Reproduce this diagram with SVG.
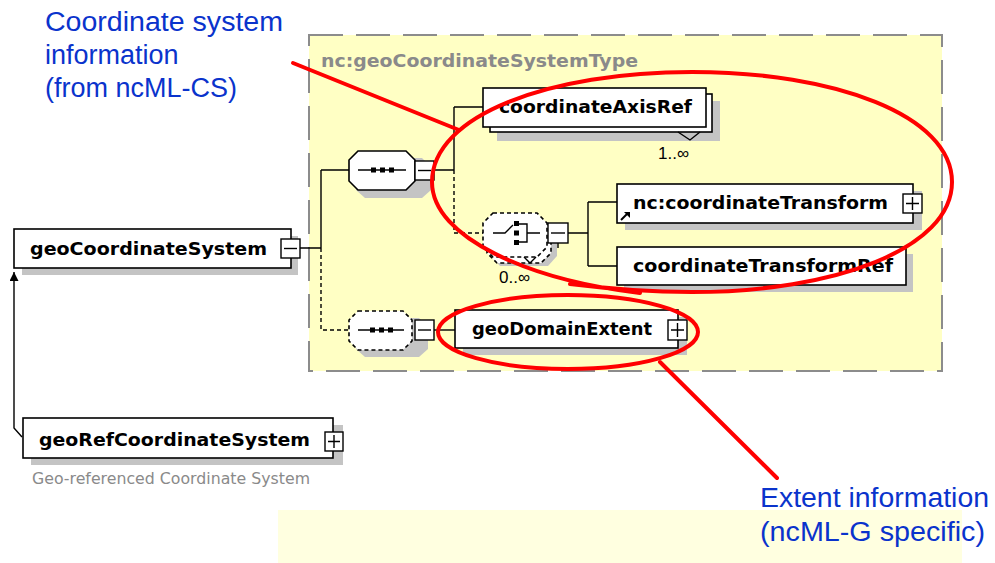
<svg xmlns="http://www.w3.org/2000/svg" width="995" height="563" viewBox="0 0 995 563">
  <style>
    .lbl { font-family: "DejaVu Sans", "Liberation Sans", sans-serif; font-weight: bold; font-size: 17px; fill: #000; }
    .box { fill: #fff; stroke: #000; stroke-width: 1.6; }
    .shadow { fill: #c4c4c4; }
    .btn { fill: #fff; stroke: #000; stroke-width: 1.4; }
    .sym { stroke: #000; stroke-width: 1.4; fill: none; }
    .wire { stroke: #000; stroke-width: 1.4; fill: none; }
    .opt { stroke: #000; stroke-width: 1.4; fill: none; stroke-dasharray: 4 3; }
    .comp { fill: #fff; stroke: #000; stroke-width: 1.6; }
    .compopt { fill: #fff; stroke: #000; stroke-width: 1.6; stroke-dasharray: 4 3; }
    .card { font-family: "Liberation Sans", Arial, sans-serif; font-size: 17px; fill: #000; }
    .note { font-family: "Liberation Sans", Arial, sans-serif; font-size: 27px; fill: #0a33cc; }
    .red { stroke: #ff0000; stroke-width: 4; fill: none; stroke-linecap: round; }
  </style>
  <defs>
    <marker id="arrowHead" viewBox="0 0 10 10" refX="10" refY="5" markerWidth="10" markerHeight="9" markerUnits="userSpaceOnUse" orient="auto">
      <path d="M0,0 L10,5 L0,10 Z" fill="#000"/>
    </marker>
  </defs>

  <!-- pale panel at the bottom -->
  <rect x="278" y="510" width="684" height="53" fill="#ffffe0"/>

  <!-- complex type frame -->
  <g id="typeFrame">
    <rect x="309" y="35" width="633" height="336" fill="#ffffc4" stroke="#8c8c8c" stroke-width="2" stroke-dasharray="34 13"/>
    <text x="321" y="67" font-family="'DejaVu Sans', 'Liberation Sans', sans-serif" font-weight="bold" font-size="17" fill="#8a8a8a" textLength="317" lengthAdjust="spacingAndGlyphs">nc:geoCoordinateSystemType</text>
  </g>

  <!-- connectors -->
  <g id="connectors">
    <path class="wire" d="M300,248 H321 M321,170 V248 M321,170 H349"/>
    <path class="opt" d="M321,248 V330 H349"/>
    <path class="wire" d="M434,170 H454 M454,107 V170 M454,107 H483"/>
    <path class="opt" d="M454,170 V233 H483"/>
    <path class="wire" d="M568,233 H588 M588,202 V266 M588,202 H617 M588,266 H617 M558,243 V248"/>
    <path class="wire" d="M434,330 H455"/>
    <path class="wire" d="M22,437 L14,428 V272" marker-end="url(#arrowHead)"/>
  </g>

  <!-- root element -->
  <g id="geoCoordinateSystem">
    <rect class="shadow" x="22" y="236" width="276" height="39"/>
    <rect class="box" x="14" y="229" width="277" height="39"/>
    <text class="lbl" x="30" y="255" textLength="237" lengthAdjust="spacingAndGlyphs">geoCoordinateSystem</text>
    <rect class="btn" x="281" y="239" width="19" height="19"/>
    <path class="sym" d="M284,248.5 H297"/>
  </g>

  <!-- sequence compositor -->
  <g id="sequenceMain">
    <path class="shadow" d="M365,158 H422 L431,167 V190 L422,198 H365 L356,190 V167 Z"/>
    <path class="comp" d="M358,151 H406 L415,160 V181 L406,190 H358 L349,181 V160 Z"/>
    <path class="sym" d="M358,170 H406"/>
    <rect x="371" y="167.5" width="5" height="5" fill="#000"/>
    <rect x="380" y="167.5" width="5" height="5" fill="#000"/>
    <rect x="389" y="167.5" width="5" height="5" fill="#000"/>
    <rect class="btn" x="415" y="161" width="19" height="19"/>
    <path class="sym" d="M418,170.5 H431"/>
  </g>

  <!-- coordinateAxisRef (repeating) -->
  <g id="coordinateAxisRef">
    <rect class="shadow" x="497" y="101" width="223" height="40"/>
    <rect class="box" x="490" y="94" width="222" height="38"/>
    <rect class="box" x="483" y="88" width="223" height="39"/>
    <path class="sym" d="M678,132 L690,140 L700,132"/>
    <text class="lbl" x="499" y="113" textLength="193" lengthAdjust="spacingAndGlyphs">coordinateAxisRef</text>
    <text class="card" x="658" y="159">1..∞</text>
  </g>

  <!-- choice compositor (optional, repeating) -->
  <g id="choiceTransform">
    <path class="shadow" d="M500,222 H548 L557,231 V256 L548,266 H500 L491,256 V231 Z"/>
    <path class="compopt" d="M497,219 H541 L551,229 V253 L541,263 H497 L487,253 V229 Z"/>
    <path class="compopt" d="M493,213 H537 L547,223 V247 L537,257 H493 L483,247 V223 Z"/>
    <path class="sym" d="M524,257 L530,263 L536,257"/>
    <path class="sym" d="M493,233 H505 L513,225 M519,224 H527 V242 H519 M527,233 H540"/>
    <rect x="514" y="221" width="5" height="5" fill="#000"/>
    <rect x="514" y="230.5" width="5" height="5" fill="#000"/>
    <rect x="514" y="240" width="5" height="5" fill="#000"/>
    <rect class="btn" x="548" y="223" width="20" height="20"/>
    <path class="sym" d="M551,233 H565"/>
    <text class="card" x="499" y="283">0..∞</text>
  </g>

  <!-- nc:coordinateTransform (reference) -->
  <g id="coordinateTransform">
    <rect class="shadow" x="625" y="191" width="297" height="39"/>
    <rect class="box" x="617" y="184" width="296" height="39"/>
    <text class="lbl" x="633" y="209" textLength="255" lengthAdjust="spacingAndGlyphs">nc:coordinateTransform</text>
    <path d="M621,220 L628,213" stroke="#000" stroke-width="2"/>
    <path d="M624,212 H630 V218 Z" fill="#000"/>
    <rect class="btn" x="903" y="194" width="19" height="19"/>
    <path class="sym" d="M906,203.5 H919 M912.5,197 V210"/>
  </g>

  <!-- coordinateTransformRef -->
  <g id="coordinateTransformRef">
    <rect class="shadow" x="624" y="254" width="289" height="38"/>
    <rect class="box" x="617" y="247" width="289" height="38"/>
    <text class="lbl" x="633" y="272" textLength="260" lengthAdjust="spacingAndGlyphs">coordinateTransformRef</text>
  </g>

  <!-- optional sequence compositor -->
  <g id="sequenceExtent">
    <path class="shadow" d="M365,318 H419 L428,327 V349 L419,357 H365 L356,349 V327 Z"/>
    <path class="compopt" d="M358,311 H403 L412,320 V341 L403,350 H358 L349,341 V320 Z"/>
    <path class="sym" d="M358,330 H404"/>
    <rect x="370" y="327.5" width="5" height="5" fill="#000"/>
    <rect x="379" y="327.5" width="5" height="5" fill="#000"/>
    <rect x="388" y="327.5" width="5" height="5" fill="#000"/>
    <rect class="btn" x="415" y="320" width="19" height="20"/>
    <path class="sym" d="M418,330 H431"/>
  </g>

  <!-- geoDomainExtent -->
  <g id="geoDomainExtent">
    <rect class="shadow" x="463" y="317" width="224" height="38"/>
    <rect class="box" x="455" y="310" width="223" height="38"/>
    <text class="lbl" x="472" y="335" textLength="180" lengthAdjust="spacingAndGlyphs">geoDomainExtent</text>
    <rect class="btn" x="668" y="320" width="19" height="20"/>
    <path class="sym" d="M671,330 H684 M677.5,323 V337"/>
  </g>

  <!-- derived element -->
  <g id="geoRefCoordinateSystem">
    <rect class="shadow" x="31" y="425" width="312" height="40"/>
    <rect class="box" x="23" y="418" width="310" height="40"/>
    <text class="lbl" x="39" y="446" textLength="271" lengthAdjust="spacingAndGlyphs">geoRefCoordinateSystem</text>
    <rect class="btn" x="325" y="432" width="18" height="19"/>
    <path class="sym" d="M328,441.5 H340 M334,435 V448"/>
    <text x="32" y="484" font-family="'DejaVu Sans', 'Liberation Sans', sans-serif" font-size="15" fill="#8a8a8a" textLength="278" lengthAdjust="spacingAndGlyphs">Geo-referenced Coordinate System</text>
  </g>

  <!-- annotations -->
  <g id="noteCoordinateSystem">
    <text class="note" x="45" y="31" textLength="238" lengthAdjust="spacingAndGlyphs">Coordinate system</text>
    <text class="note" x="45" y="64">information</text>
    <text class="note" x="45" y="97">(from ncML-CS)</text>
    <path class="red" d="M293,63 L459,130"/>
    <path class="red" d="M640,293 C530,280 432,238 432,182 C432,115 550,72 692,72 C834,72 952,115 952,182 C952,249 834,292 692,292 C650,292 610,289 570,284"/>
  </g>
  <g id="noteExtent">
    <text class="note" x="760" y="507" textLength="229" lengthAdjust="spacingAndGlyphs">Extent information</text>
    <text class="note" x="760" y="541" textLength="225" lengthAdjust="spacingAndGlyphs">(ncML-G specific)</text>
    <ellipse class="red" cx="568" cy="332" rx="130" ry="37"/>
    <path class="red" d="M660,362 L777,478"/>
  </g>
</svg>
